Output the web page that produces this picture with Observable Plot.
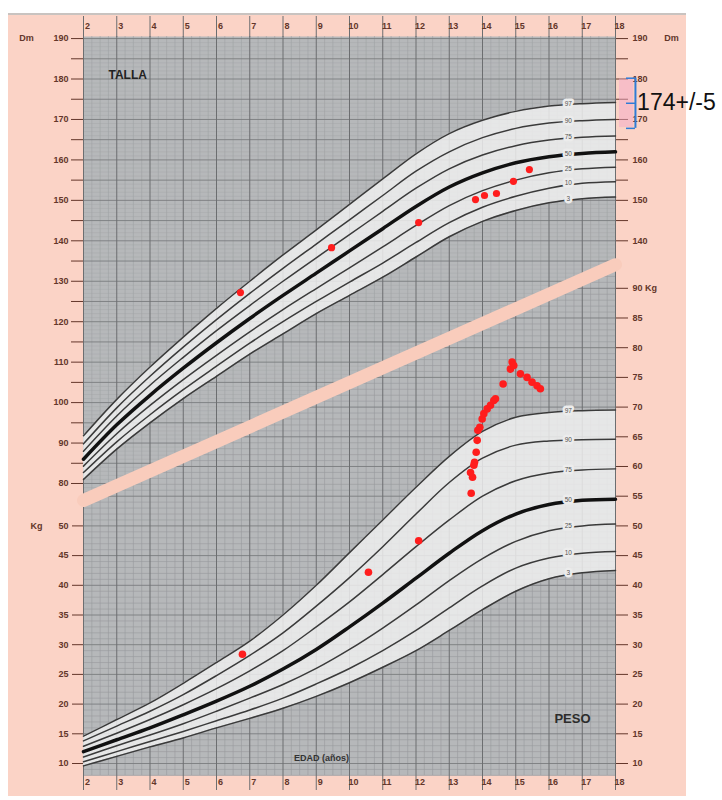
<!DOCTYPE html>
<html><head><meta charset="utf-8">
<script src="https://cdn.jsdelivr.net/npm/d3@7"></script>
<script src="https://cdn.jsdelivr.net/npm/@observablehq/plot@0.6"></script>
<style>
html,body{margin:0;padding:0;background:#fff;overflow:hidden;}
#wrap{position:relative;width:722px;height:800px;}
#paper{position:absolute;left:8px;top:13px;width:678px;height:781px;background:#fbd3c6;border-top:2px solid #c9c3c0;}
#wrap svg{position:absolute;left:0;top:0;}
</style></head><body><div id="wrap"><div id="paper"></div></div>
<script>
// ---------- DATA ----------
const edad = [2,3,4,5,6,7,8,9,10,11,12,13,14,15,16,17,18];
const percentiles = [3,10,25,50,75,90,97];

const tallaP3  = [81.0, 88.5, 95.0,101.0,106.5,112.0,117.0,122.0,126.5,131.0,136.0,141.0,144.8,147.5,149.4,150.4,150.8];
const tallaP10 = [82.7, 90.3, 97.0,103.2,109.0,114.7,120.0,125.0,129.8,134.5,139.6,144.5,148.3,151.0,153.0,154.2,154.6];
const tallaP25 = [84.3, 92.3, 99.3,105.7,111.7,117.5,123.0,128.2,133.3,138.5,143.8,148.7,152.4,155.0,156.8,157.8,158.2];
const tallaP50 = [86.0, 94.5,101.8,108.5,114.8,120.8,126.5,132.0,137.5,143.0,148.5,153.3,156.8,159.3,160.8,161.6,162.0];
const tallaP75 = [88.0, 96.7,104.3,111.2,117.8,124.0,130.0,135.8,141.5,147.3,153.0,157.8,161.2,163.5,164.9,165.6,165.9];
const tallaP90 = [89.8, 98.7,106.5,113.7,120.5,127.0,133.2,139.2,145.2,151.2,157.2,162.0,165.5,167.8,169.1,169.7,170.0];
const tallaP97 = [91.8,100.8,108.8,116.2,123.3,130.0,136.5,142.7,149.0,155.3,161.5,166.5,169.8,172.0,173.3,173.9,174.2];

const pesoP3  = [ 9.6,11.2,12.8,14.3,16.0,17.6,19.3,21.3,23.6,26.2,29.0,32.4,35.9,39.0,41.1,42.1,42.5];
const pesoP10 = [10.3,12.0,13.7,15.4,17.2,19.0,21.0,23.4,26.0,29.0,32.4,36.2,39.9,42.9,44.6,45.4,45.7];
const pesoP25 = [11.1,13.0,14.8,16.7,18.8,21.0,23.3,26.0,29.2,32.8,36.7,40.8,44.5,47.4,49.2,50.0,50.3];
const pesoP50 = [12.0,14.0,16.0,18.2,20.5,23.0,25.9,29.2,33.0,37.0,41.2,45.4,49.2,52.0,53.6,54.3,54.5];
const pesoP75 = [12.9,15.1,17.4,19.9,22.6,25.6,29.0,33.0,37.2,41.8,46.5,51.0,55.0,57.6,58.9,59.4,59.6];
const pesoP90 = [13.8,16.3,18.8,21.6,24.8,28.2,32.0,36.5,41.3,46.5,52.0,57.3,61.4,63.6,64.3,64.5,64.6];
const pesoP97 = [14.6,17.4,20.2,23.5,27.0,30.6,35.0,40.0,45.5,51.0,56.5,61.7,65.9,68.3,69.1,69.4,69.5];

// patient measurements
const tallaEdad = [6.72, 9.46, 12.08, 13.79, 14.06, 14.42, 14.93, 15.41];
const tallaCm   = [127.2, 138.3, 144.5, 150.2, 151.2, 151.7, 154.7, 157.6];
const pesoEdad = [6.78,10.57,12.08,13.66,13.70,13.64,13.74,13.76,13.81,13.84,13.86,13.92,13.99,14.04,14.14,14.24,14.34,14.39,14.62,14.84,14.89,14.94,15.14,15.34,15.49,15.64,15.74];
const pesoKg   = [28.4, 42.2, 47.5, 55.5, 58.2, 59.0, 60.2, 60.7, 62.4, 64.4, 66.1, 66.6, 68.0, 68.9, 69.7, 70.3, 71.1, 71.4, 73.9, 76.4, 77.6, 77.0, 75.6, 75.0, 74.2, 73.6, 73.1];

// diagonal separator (in cm units of the height scale)
const separadorEdad = [2, 18];
const separadorCm   = [75.8, 134.1];

// target height annotation
const tallaDiana = 174, tallaMargen = 5;

// axis ticks
const tallaTicksIzq = [80,85,90,95,100,105,110,115,120,125,130,135,140,145,150,155,160,165,170,175,180,185,190];
const tallaTicksDer = [140,145,150,155,160,165,170,175,180,185,190];
const pesoTicksIzq = [10,15,20,25,30,35,40,45,50];
const pesoTicksDer = [10,15,20,25,30,35,40,45,50,55,60,65,70,75,80,85,90];

// ---------- LAYOUT ----------
const W = 722, H = 800;
const M = {marginTop: 36, marginRight: 107, marginBottom: 25, marginLeft: 83};
const xDom = [2, 18];
const cmDom = [7.81, 190.51];
const kgDom = [7.98, 132.39];
const FONT = "'Liberation Sans', Arial, sans-serif";
const AXC = "#63362a";

const yCm = d3.scaleLinear(cmDom, [H - M.marginBottom, M.marginTop]);
const yKg = d3.scaleLinear(kgDom, [H - M.marginBottom, M.marginTop]);
const cmToKg = c => yKg.invert(yCm(c));
const sepCmAt = a => separadorCm[0] + (a - separadorEdad[0]) * (separadorCm[1]-separadorCm[0])/(separadorEdad[1]-separadorEdad[0]);
const sepAgeAtCm = c => separadorEdad[0] + (c - separadorCm[0]) * (separadorEdad[1]-separadorEdad[0])/(separadorCm[1]-separadorCm[0]);
const sepKg = separadorCm.map(cmToKg);
const sepKgAt = a => sepKg[0] + (a - separadorEdad[0]) * (sepKg[1]-sepKg[0])/(separadorEdad[1]-separadorEdad[0]);
const sepAgeAtKg = k => separadorEdad[0] + (k - sepKg[0]) * (separadorEdad[1]-separadorEdad[0])/(sepKg[1]-sepKg[0]);

function tableOf(arrs){
  const rows = [];
  arrs.forEach((arr, j) => arr.forEach((v, i) => rows.push({edad: edad[i], p: percentiles[j], v})));
  return rows;
}
const tallaRows = tableOf([tallaP3,tallaP10,tallaP25,tallaP50,tallaP75,tallaP90,tallaP97]);
const pesoRows  = tableOf([pesoP3,pesoP10,pesoP25,pesoP50,pesoP75,pesoP90,pesoP97]);
const tallaBand = edad.map((a,i) => ({edad: a, lo: tallaP3[i], hi: tallaP97[i]}));
const pesoBand  = edad.map((a,i) => ({edad: a, lo: pesoP3[i], hi: pesoP97[i]}));
const tallaObs = tallaEdad.map((a,i) => ({edad: a, v: tallaCm[i]}));
const pesoObs  = pesoEdad.map((a,i) => ({edad: a, v: pesoKg[i]}));
const separador = separadorEdad.map((a,i) => ({edad: a, v: separadorCm[i]}));

const quarter = d3.range(2, 18.01, 0.25);
const isYear = d => Math.abs(d - Math.round(d)) < 1e-6;

const base = {width: W, height: H, ...M, x: {domain: xDom},
  style: {background: "transparent", overflow: "visible", fontFamily: FONT}};

// ---------- WEIGHT (bottom layer) ----------
const kgLines = d3.range(8, 95, 1).filter(k => sepAgeAtKg(k) < 18);
const peso = Plot.plot({
  ...base,
  y: {domain: kgDom},
  marks: [
    Plot.frame({fill: "#b6b8ba", stroke: null}),
    // grid below the separator
    Plot.ruleY(kgLines.filter(k => k % 5), {y: d => d, x1: d => Math.max(2, sepAgeAtKg(d)), x2: 18, stroke: "#999b9d", strokeWidth: 0.6}),
    Plot.ruleX(quarter.filter(d => !isYear(d)), {x: d => d, y1: kgDom[0], y2: d => sepKgAt(d), stroke: "#999b9d", strokeWidth: 0.6}),
    Plot.ruleY(kgLines.filter(k => k % 5 === 0), {y: d => d, x1: d => Math.max(2, sepAgeAtKg(d)), x2: 18, stroke: "#7b7d7f", strokeWidth: 0.9}),
    Plot.ruleX(edad, {x: d => d, y1: kgDom[0], y2: d => sepKgAt(d), stroke: "#6c6e70", strokeWidth: 1}),
    // percentile band
    Plot.areaY(pesoBand, {x: "edad", y1: "lo", y2: "hi", fill: "#efefef", fillOpacity: 0.85, curve: "catmull-rom"}),
    Plot.line(pesoRows.filter(d => d.p !== 50), {x: "edad", y: "v", z: "p", stroke: "#3a3a3a", strokeWidth: 1.5, curve: "catmull-rom"}),
    Plot.line(pesoRows.filter(d => d.p === 50), {x: "edad", y: "v", stroke: "#111", strokeWidth: 3.5, curve: "catmull-rom"}),
    Plot.text(pesoRows.filter(d => d.edad === 17), {x: "edad", y: "v", text: d => String(d.p), dx: -14, fontSize: 6.5, fill: "#555", stroke: "#ececec", strokeWidth: 5, paintOrder: "stroke"}),
    // observations
    Plot.dot(pesoObs, {x: "edad", y: "v", r: 3.8, fill: "#ff1d1d"}),
    // axes
    Plot.axisY({anchor: "left", ticks: pesoTicksIzq, tickSize: 11, tickPadding: 4, color: AXC, fontSize: 9, fontWeight: "bold", label: null}),
    Plot.axisY({anchor: "right", ticks: pesoTicksDer, tickSize: 12, tickPadding: 5, color: AXC, fontSize: 9, fontWeight: "bold", label: null, tickFormat: d => d === 90 ? "90\u00a0Kg" : String(d)}),
    Plot.text(["Kg"], {x: 2, y: 50, dx: -47, textAnchor: "middle", fontSize: 9, fontWeight: "bold", fill: AXC}),
    Plot.axisX({anchor: "bottom", ticks: edad, tickSize: 15, tickFormat: () => "", color: "#6c6e70", label: null}),
    Plot.text(edad, {x: d => d, frameAnchor: "bottom", dy: 9, dx: 4, text: d => String(d), fontSize: 9, fontWeight: "bold", fill: AXC}),
    Plot.text(["PESO"], {frameAnchor: "bottom-right", dx: -25, dy: -53, fontSize: 13, fontWeight: "bold", fill: "#2c2c2c", letterSpacing: "2px"}),
    Plot.text(["EDAD (años)"], {frameAnchor: "bottom", dx: -28, dy: -15, fontSize: 9, fontWeight: "bold", fill: "#333", letterSpacing: "0.5px"})
  ]
});

// ---------- HEIGHT (top layer) ----------
const cmLines = d3.range(76, 191, 1).filter(c => sepAgeAtCm(c) > 2);
const talla = Plot.plot({
  ...base,
  y: {domain: cmDom},
  marks: [
    // grid above the separator
    Plot.ruleY(cmLines.filter(c => c % 5), {y: d => d, x1: 2, x2: d => Math.min(18, sepAgeAtCm(d)), stroke: "#a6a8aa", strokeWidth: 0.5}),
    Plot.ruleX(quarter.filter(d => !isYear(d)), {x: d => d, y1: d => sepCmAt(d), y2: cmDom[1], stroke: "#a0a2a4", strokeWidth: 0.6}),
    Plot.ruleY(cmLines.filter(c => c % 5 === 0), {y: d => d, x1: 2, x2: d => Math.min(18, sepAgeAtCm(d)), stroke: "#7b7d7f", strokeWidth: 0.9}),
    Plot.ruleX(edad, {x: d => d, y1: d => sepCmAt(d), y2: cmDom[1], stroke: "#6c6e70", strokeWidth: 1}),
    // separator band
    Plot.line(separador, {x: "edad", y: "v", stroke: "#f9ccbc", strokeWidth: 13}),
    // percentile band
    Plot.areaY(tallaBand, {x: "edad", y1: "lo", y2: "hi", fill: "#efefef", fillOpacity: 0.85, curve: "catmull-rom"}),
    Plot.line(tallaRows.filter(d => d.p !== 50), {x: "edad", y: "v", z: "p", stroke: "#3a3a3a", strokeWidth: 1.5, curve: "catmull-rom"}),
    Plot.line(tallaRows.filter(d => d.p === 50), {x: "edad", y: "v", stroke: "#111", strokeWidth: 3.5, curve: "catmull-rom"}),
    Plot.text(tallaRows.filter(d => d.edad === 17), {x: "edad", y: "v", text: d => String(d.p), dx: -14, fontSize: 6.5, fill: "#555", stroke: "#ececec", strokeWidth: 5, paintOrder: "stroke"}),
    Plot.dot(tallaObs, {x: "edad", y: "v", r: 3.6, fill: "#ff1d1d"}),
    // axes
    Plot.axisY({anchor: "left", ticks: tallaTicksIzq, tickSize: 12, tickPadding: 3, color: AXC, fontSize: 9, fontWeight: "bold", label: null,
      tickFormat: d => d % 10 ? "" : String(d)}),
    Plot.axisY({anchor: "right", ticks: tallaTicksDer, tickSize: 12, tickPadding: 5, color: AXC, fontSize: 9, fontWeight: "bold", label: null,
      tickFormat: d => d % 10 ? "" : String(d)}),
    Plot.text(["Dm"], {x: 2, y: 190, dx: -57, textAnchor: "middle", fontSize: 9, fontWeight: "bold", fill: AXC}),
    Plot.text(["Dm"], {x: 18, y: 190, dx: 56, textAnchor: "middle", fontSize: 9, fontWeight: "bold", fill: AXC}),
    Plot.axisX({anchor: "top", ticks: edad, tickSize: 21, tickFormat: () => "", color: "#6c6e70", label: null}),
    Plot.text(edad, {x: d => d, frameAnchor: "top", dy: -14, dx: 4, text: d => String(d), fontSize: 9, fontWeight: "bold", fill: AXC}),
    Plot.text(["TALLA"], {frameAnchor: "top-left", dx: 25, dy: 34, fontSize: 12, fontWeight: "bold", fill: "#222", letterSpacing: "2.5px"}),
    // target height annotation
    Plot.rect([tallaDiana], {x1: 18.12, x2: 18.55, y1: d => d - tallaMargen - 1, y2: d => d + tallaMargen + 1, fill: "#f3a9c8", fillOpacity: 0.5}),
    Plot.ruleX([tallaDiana], {x: 18.6, y1: d => d - tallaMargen - 1.2, y2: d => d + tallaMargen + 1.2, stroke: "#2f7bd6", strokeWidth: 2}),
    Plot.ruleY([tallaDiana - tallaMargen - 1.2, tallaDiana, tallaDiana + tallaMargen + 1.2], {y: d => d, x1: 18.33, x2: 18.6, stroke: "#2f7bd6", strokeWidth: 1.5}),
    Plot.text([tallaDiana], {x: 18.65, y: d => d, dy: -1, text: d => `${d}+/-${tallaMargen}`, textAnchor: "start", fontSize: 23, fill: "#111", fontFamily: "'Liberation Sans', sans-serif"})
  ]
});

document.getElementById("wrap").append(peso, talla);
</script>
</body></html>
